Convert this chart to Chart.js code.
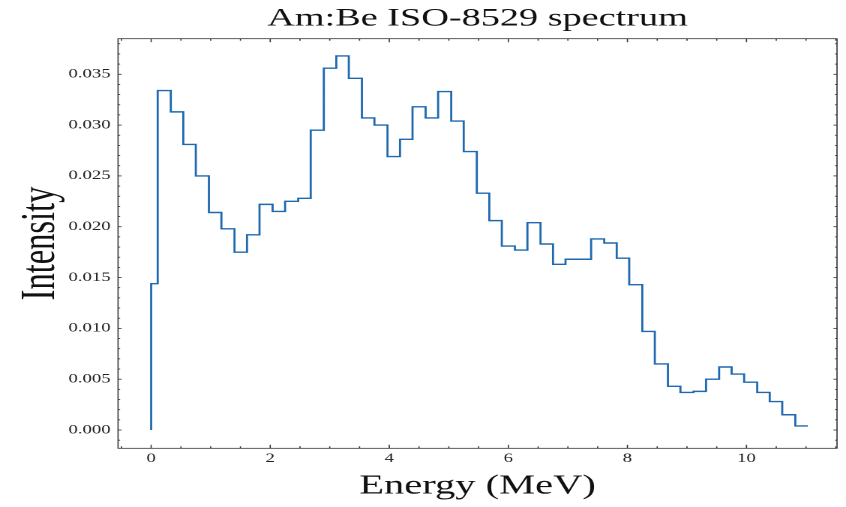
<!DOCTYPE html>
<html>
<head>
<meta charset="utf-8">
<script src="https://cdn.jsdelivr.net/npm/chart.js@4.4.1/dist/chart.umd.min.js"></script>
<style>
  html, body { margin: 0; padding: 0; background: #fff; overflow: hidden; }
  /* the reference figure is stretched sideways, so draw narrow and widen */
  #wrap { width: 564px; height: 507px; transform: scaleX(1.5); transform-origin: 0 0; }
</style>
</head>
<body>
<div id="wrap"><canvas id="spectrum"></canvas></div>
<script>
// ISO-8529 Am:Be bin edges (MeV) and intensity per bin
const binEdges = [0, 0.11, 0.33, 0.54, 0.75, 0.97, 1.18, 1.40, 1.61, 1.82, 2.04, 2.25, 2.47, 2.68,
  2.90, 3.11, 3.32, 3.54, 3.75, 3.97, 4.18, 4.39, 4.61, 4.82, 5.04, 5.25, 5.47, 5.68, 5.89, 6.11,
  6.32, 6.54, 6.75, 6.96, 7.18, 7.39, 7.61, 7.82, 8.03, 8.25, 8.46, 8.68, 8.89, 9.11, 9.32, 9.54,
  9.75, 9.96, 10.18, 10.39, 10.60, 10.82, 11.03];
const intensity = [0.0144, 0.0334, 0.0313, 0.0281, 0.0250, 0.0214, 0.0198, 0.0175, 0.0192, 0.0222,
  0.0215, 0.0225, 0.0228, 0.0295, 0.0356, 0.0368, 0.0346, 0.0307, 0.0300, 0.0269, 0.0286, 0.0318,
  0.0307, 0.0333, 0.0304, 0.0274, 0.0233, 0.0206, 0.0181, 0.0177, 0.0204, 0.0183, 0.0163, 0.0168,
  0.0168, 0.0188, 0.0184, 0.0169, 0.0143, 0.0097, 0.0065, 0.0043, 0.0037, 0.0038, 0.0050, 0.0062,
  0.0055, 0.0047, 0.0037, 0.0028, 0.0015, 0.0004];
const xTicks = [0, 2, 4, 6, 8, 10];
const yTicks = [0, 0.005, 0.010, 0.015, 0.020, 0.025, 0.030, 0.035];

// step outline: start from zero at the first edge, then a flat run per bin
const stepPoints = [{ x: binEdges[0], y: 0 }];
intensity.forEach((v, i) => {
  stepPoints.push({ x: binEdges[i], y: v });
  stepPoints.push({ x: binEdges[i + 1], y: v });
});

const serif = "'Liberation Serif', 'DejaVu Serif', serif";

// inward ticks on all four sides + frame, like the matplotlib "science" style
const frameTicks = {
  id: 'frameTicks',
  afterDatasetsDraw(chart) {
    const { ctx, chartArea: a, scales: { x, y } } = chart;
    ctx.save();
    ctx.strokeStyle = '#333';
    ctx.lineWidth = 0.8;
    const mark = (x1, y1, x2, y2) => { ctx.beginPath(); ctx.moveTo(x1, y1); ctx.lineTo(x2, y2); ctx.stroke(); };
    for (let v = Math.ceil(x.min / 0.5) * 0.5; v <= x.max + 1e-9; v += 0.5) {
      const px = x.getPixelForValue(v);
      const len = Math.abs(v / 2 - Math.round(v / 2)) < 1e-6 ? 3.5 : 2;
      mark(px, a.bottom, px, a.bottom - len);
      mark(px, a.top, px, a.top + len);
    }
    for (let v = Math.ceil(y.min / 0.001) * 0.001; v <= y.max + 1e-9; v += 0.001) {
      const py = y.getPixelForValue(v);
      const len = Math.abs(v / 0.005 - Math.round(v / 0.005)) < 1e-6 ? 2.4 : 1.4;
      mark(a.left, py, a.left + len, py);
      mark(a.right, py, a.right - len, py);
    }
    ctx.strokeRect(a.left, a.top, a.right - a.left, a.bottom - a.top);
    ctx.restore();
  }
};

new Chart(document.getElementById('spectrum'), {
  type: 'line',
  data: {
    datasets: [{
      data: stepPoints,
      borderColor: '#1f69b0',
      borderWidth: 1.4,
      pointRadius: 0,
      tension: 0,
      fill: false
    }]
  },
  options: {
    responsive: true,
    maintainAspectRatio: false,
    devicePixelRatio: 2,
    animation: false,
    layout: { padding: { left: 0, right: 6, top: 0, bottom: 0 } },
    plugins: {
      legend: { display: false },
      tooltip: { enabled: false },
      title: {
        display: true,
        text: 'Am:Be ISO-8529 spectrum',
        fullSize: false,
        color: '#111',
        font: { family: serif, size: 25.5, weight: 'normal', lineHeight: 1 },
        padding: { top: 6, bottom: 7.2 }
      }
    },
    scales: {
      x: {
        type: 'linear',
        min: -0.556,
        max: 11.52,
        grid: { display: false, drawTicks: false },
        border: { display: false },
        afterBuildTicks: s => { s.ticks = xTicks.map(v => ({ value: v })); },
        afterFit: s => { s.height = 58.7; },
        ticks: {
          padding: 3,
          color: '#222',
          font: { family: serif, size: 12.5 },
          callback: v => String(v)
        },
        title: {
          display: true,
          text: 'Energy (MeV)',
          color: '#111',
          font: { family: serif, size: 27, lineHeight: 1 },
          padding: { top: 0, bottom: 7 }
        }
      },
      y: {
        type: 'linear',
        min: -0.0018,
        max: 0.0385,
        grid: { display: false, drawTicks: false },
        border: { display: false },
        afterBuildTicks: s => { s.ticks = yTicks.map(v => ({ value: v })); },
        afterFit: s => { s.width = 78.7; },
        ticks: {
          padding: 5,
          color: '#222',
          font: { family: serif, size: 12.5 },
          callback: v => v.toFixed(3)
        },
        title: {
          display: true,
          text: 'Intensity',
          color: '#111',
          font: { family: serif, size: 32.5, lineHeight: 1 },
          padding: { top: 11, bottom: 0 }
        }
      }
    }
  },
  plugins: [frameTicks]
});
</script>
</body>
</html>
